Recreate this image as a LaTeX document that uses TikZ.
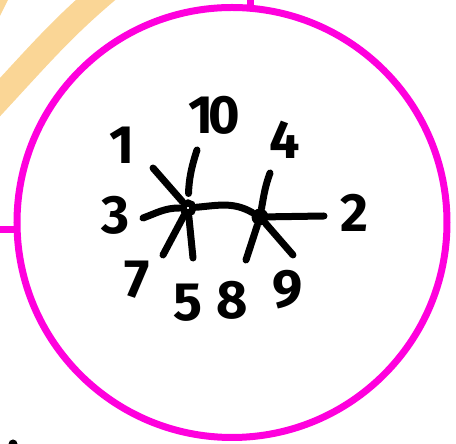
\documentclass[tikz,border=0pt]{standalone}
\usepackage{fontspec}
\setmainfont{Fira Sans}
\usetikzlibrary{positioning}
\definecolor{hoop}{RGB}{255,0,221}
\definecolor{marker}{RGB}{250,214,150}
\tikzset{
  vtx/.style={circle,fill,inner sep=0pt,minimum size=17pt},
  hollowvtx/.style={circle,draw,fill=white,line width=7pt,inner sep=0pt,minimum size=10pt},
  link/.style={line width=7pt,line cap=round},
  leg/.style={line width=7pt,line cap=round},
  hoopline/.style={draw=hoop,line width=7pt},
  lbl/.style={font=\fontsize{54}{54}\selectfont\bfseries,inner sep=0pt}
}

\begin{document}
\begin{tikzpicture}[x=1pt,y=1pt]
\useasboundingbox (0,0) rectangle (456,444);
\fill[marker] (0,444) -- (8,444) -- (0,428) -- cycle;
\draw[marker,line width=26pt] (-10,336) .. controls (40,390) and (62,416) .. (107,454);
\draw[hoopline] (232,221.5) circle (215);
\draw[hoopline] (250,444) -- (250,436);
\draw[hoopline] (0,214) -- (15,214);
\fill (13,0) circle (4.5);

\node[hollowvtx] (A) at (188,236) {};
\node[vtx] (B) at (260,227) {};
\coordinate (e1) at (153,276);
\coordinate (e10) at (197,294);
\coordinate (e3) at (143,226);
\coordinate (e7) at (163,189);
\coordinate (e5) at (193,186);
\coordinate (e4) at (270,271);
\coordinate (e2) at (324,228);
\coordinate (e8) at (246,184);
\coordinate (e9) at (293,189);

\draw[link] (A) to[out=5,in=150] (B);
\draw[leg] (A) -- (e1);
\draw[leg,shorten <=6pt] (A) to[out=88,in=252] (e10);
\draw[leg] (A) to[out=180,in=20] (e3);
\draw[leg] (A) -- (e7);
\draw[leg] (A) -- (e5);
\draw[leg] (B) to[out=80,in=250] (e4);
\draw[leg] (B) -- (e2);
\draw[leg] (B) -- (e8);
\draw[leg] (B) -- (e9);

\node[lbl] (l1) at (122,299) {1};
\node[lbl] (l10) at (214,329) {1\kern-5pt0};
\node[lbl] (l4) at (285,304) {4};
\node[lbl] (l3) at (116,229) {3};
\node[lbl] (l2) at (354,231) {2};
\node[lbl] (l7) at (137,164) {7};
\node[lbl] (l5) at (188,141) {5};
\node[lbl] (l8) at (232,144) {8};
\node[lbl] (l9) at (288,154) {9};
\end{tikzpicture}
\end{document}
